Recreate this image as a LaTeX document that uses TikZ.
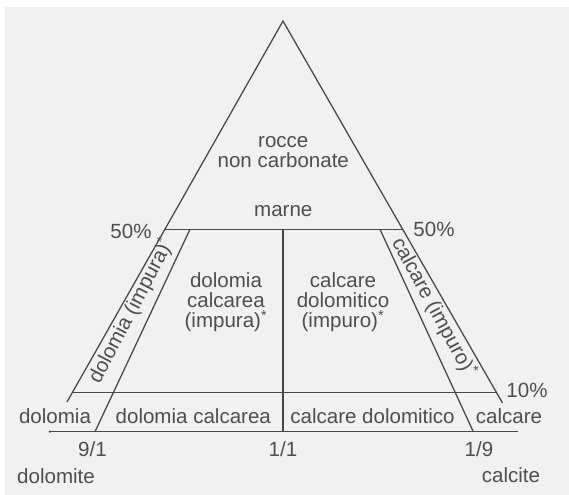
\documentclass[tikz,border=0pt]{standalone}
\usepackage{fontspec}
\setmainfont{Liberation Sans}
\definecolor{bg}{HTML}{F1F1F1}
\definecolor{ink}{HTML}{484848}
\definecolor{txt}{HTML}{4E4E4E}
\begin{document}
\begin{tikzpicture}[x=0.75pt,y=-0.75pt,
  edge/.style={draw=ink,line width=0.95pt},
  lbl/.style={text=txt,font=\fontsize{15.4}{15.2}\selectfont,inner sep=0pt,align=center},
  star/.style={}]
\useasboundingbox (0,0) rectangle (569,495);
\fill[white] (0,0) rectangle (569,495);
\fill[bg] (5,7) rectangle (569,495);
% key points
\coordinate (apex) at (283,21);
\coordinate (L50) at (165,229.3);
\coordinate (R50) at (402.5,229.3);
\coordinate (Lend) at (67,402);
\coordinate (Rend) at (502.5,403);
\coordinate (L10) at (72.4,392.5);
\coordinate (R10) at (496.6,392.5);
\coordinate (Li) at (190,229.3);
\coordinate (Lb) at (95,431.7);
\coordinate (Ri) at (380,229.3);
\coordinate (Rb) at (473.3,431.7);
\coordinate (M50) at (283,229.3);
\coordinate (Mb) at (283,431.7);
\coordinate (B0) at (50,431.7);
\coordinate (B1) at (518,431.7);
% lines
\draw[edge] (Lend) -- (apex) -- (Rend);
\draw[edge] (L50) -- (R50);
\draw[edge] (L10) -- (R10);
\draw[edge] (Li) -- (Lb);
\draw[edge] (Ri) -- (Rb);
\draw[edge] (M50) -- (Mb);
\draw[edge] (B0) -- (B1);
\fill[ink] (B0) circle (1.3);
% labels
\node[lbl] (rocce) at (283.3,152) {rocce\\non carbonate};
\node[lbl] (marne) at (283.3,211.5) {marne};
\node[lbl] (p50l) at (131,231) {50\%};
\node[lbl] (p50r) at (434,229) {50\%};
\node[lbl] (p10) at (527,390) {10\%};
\node[lbl] (dcimp) at (226,302) {dolomia\\calcarea\\(impura)\textsuperscript{*}};
\node[lbl] (cdimp) at (343,302) {calcare\\dolomitico\\(impuro)\textsuperscript{*}};
\node[lbl,rotate=62.5] (dimp) at (131,311) {dolomia (impura)\textsuperscript{*}};
\node[lbl,rotate=-61.5] (cimp) at (434,307) {calcare (impuro)\textsuperscript{*}};
\node[lbl] (dol) at (55,416) {dolomia};
\node[lbl] (dolc) at (193.3,416) {dolomia calcarea};
\node[lbl] (cald) at (372.5,416) {calcare dolomitico};
\node[lbl] (cal) at (509,416) {calcare};
\node[lbl] (r91) at (92.5,449) {9/1};
\node[lbl] (r11) at (283,449) {1/1};
\node[lbl] (r19) at (479,449) {1/9};
\node[lbl] (dolt) at (56,476) {dolomite};
\node[lbl] (calt) at (511,475) {calcite};
\end{tikzpicture}
\end{document}
